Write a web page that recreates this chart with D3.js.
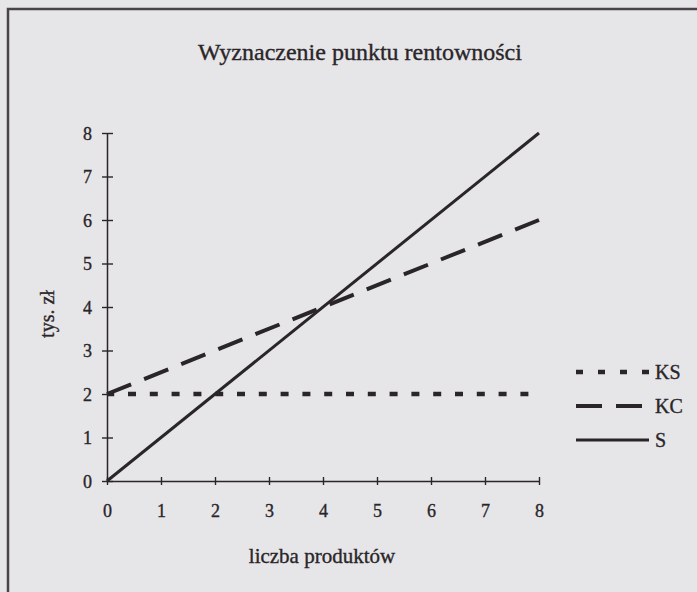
<!DOCTYPE html>
<html><head><meta charset="utf-8">
<script src="https://cdn.jsdelivr.net/npm/d3@7"></script>
<style>
html,body{margin:0;padding:0;background:#e6e5e8;}
svg{display:block;}
text{font-family:"Liberation Serif","Times New Roman",serif;fill:#2a2628;stroke:#2a2628;stroke-width:0.35px;}
</style></head><body>
<svg id="chart" width="697" height="592"></svg>
<script>
const title = "Wyznaczenie punktu rentowności";
const xLabel = "liczba produktów";
const yLabel = "tys. zł";
const xTicks = [0,1,2,3,4,5,6,7,8];
const yTicks = [0,1,2,3,4,5,6,7,8];
const seriesNames = ["KS","KC","S"];
const quantities = [0, 8];
const ksValues = [2, 2];
const kcValues = [2, 6];
const sValues = [0, 8];

const svg = d3.select("#chart");
const ink = "#2a2628";
const serif = '"Liberation Serif","Times New Roman",serif';

// frame
svg.append("path").attr("d","M8,600 L8,9 L700,9").attr("fill","none").attr("stroke","#4a4448").attr("stroke-width",2.5);

const x = d3.scaleLinear().domain([0,8]).range([107,539]);
const y = d3.scaleLinear().domain([0,8]).range([481,133]);

// title
svg.append("text").attr("x",360).attr("y",60).attr("text-anchor","middle")
  .style("font-size","24px").style("font-family",serif).text(title);

// axes
const xAxis = svg.append("g").attr("transform",`translate(0,${y(0)})`)
  .call(d3.axisBottom(x).tickValues(xTicks).tickSize(0).tickFormat(d3.format("d")));
xAxis.select(".domain").attr("stroke",ink).attr("stroke-width",1.5);
xAxis.selectAll(".tick line").remove();
xAxis.selectAll(".tick").append("line").attr("y1",-4).attr("y2",4).attr("stroke",ink).attr("stroke-width",1.4);
xAxis.selectAll(".tick text").attr("dy",0).attr("y",36);

const yAxis = svg.append("g").attr("transform",`translate(${x(0)},0)`)
  .call(d3.axisLeft(y).tickValues(yTicks).tickSize(0).tickFormat(d3.format("d")));
yAxis.select(".domain").attr("stroke",ink).attr("stroke-width",1.5);
yAxis.selectAll(".tick line").remove();
yAxis.selectAll(".tick").append("line").attr("x1",-5).attr("x2",6).attr("stroke",ink).attr("stroke-width",1.4);
yAxis.selectAll(".tick text").attr("x",-15).attr("dy","0.35em");
svg.selectAll(".tick text").attr("fill",ink).style("font-size","18px").style("font-family",serif);

// labels
svg.append("text").attr("x",322).attr("y",563).attr("text-anchor","middle").style("font-size","21px").style("font-family",serif).text(xLabel);
svg.append("text").attr("transform","translate(54,314) rotate(-90)").attr("text-anchor","middle").style("font-size","20px").style("font-family",serif).text(yLabel);

// series
const styles = {
  KS:{dash:"8,13.8", offset:0.8, width:4.5},
  KC:{dash:"26,14", offset:0, width:4},
  S:{dash:null, offset:0, width:3}
};
const data = {KS:ksValues, KC:kcValues, S:sValues};
const line = d3.line().x(d=>x(d[0])).y(d=>y(d[1]));
seriesNames.forEach(n=>{
  const pts = quantities.map((q,i)=>[q,data[n][i]]);
  svg.append("path").attr("d",line(pts)).attr("fill","none").attr("stroke",ink)
    .attr("stroke-width",styles[n].width).attr("stroke-dasharray",styles[n].dash)
    .attr("stroke-dashoffset",styles[n].offset);
});

// legend
const legY = [372,406,440];
seriesNames.forEach((n,i)=>{
  svg.append("line").attr("x1",576).attr("x2",n==="KS"?650:(n==="KC"?642:649)).attr("y1",legY[i]).attr("y2",legY[i])
    .attr("stroke",ink).attr("stroke-width",styles[n].width)
    .attr("stroke-dasharray", n==="KS"?"7,15":styles[n].dash);
  svg.append("text").attr("x",655).attr("y",legY[i]).attr("dy","0.35em").style("font-size","20px").style("font-family",serif).text(n);
});
</script></body></html>
